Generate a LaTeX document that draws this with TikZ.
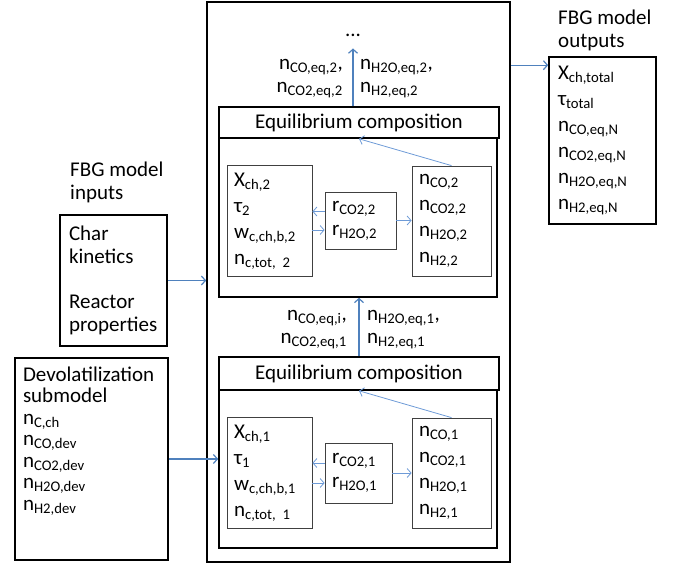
\documentclass[tikz,border=0pt]{standalone}
\usepackage{fontspec}
\setmainfont{Carlito}
\usetikzlibrary{arrows.meta}
\definecolor{linkblue}{RGB}{79,129,189}
\definecolor{swapblue}{RGB}{110,155,215}
\newcommand{\ssub}[1]{\textsubscript{#1}}

\begin{document}
\begin{tikzpicture}[x=1pt, y=-1pt, font=\fontsize{21}{26}\selectfont,
  box/.style={draw, line width=1.6pt, align=left},
  cell/.style={draw=black!75, line width=0.8pt, align=left, inner sep=7pt},
  pair/.style={inner sep=0pt, font=\fontsize{21}{23}\selectfont},
  feed/.style={-{Straight Barb[length=4pt, width=9pt]}, draw=linkblue, line width=1.2pt},
  swap/.style={-{Straight Barb[length=4pt, width=9pt]}, draw=swapblue, line width=0.8pt}]

\useasboundingbox (0,0) rectangle (676,567);

\node (outer) [draw, line width=1.6pt, minimum width=303pt, minimum height=560pt] at (358.5,282) {};

\node (head2) [box, minimum width=280pt, minimum height=31pt, align=center] at (359,122.5) {Equilibrium composition};
\node (body2) [box, minimum width=278pt, minimum height=159pt] at (358,217.5) {};
\node (left2) [cell, text width=71pt, minimum height=110pt] at (269.5,221) {X\ssub{ch,2}\\τ\ssub{2}\\w\ssub{c,ch,b,2}\\n\ssub{c,tot, 2}};
\node (mid2) [cell, text width=57pt, minimum height=57pt, font=\fontsize{21}{24}\selectfont] at (360.5,220.5) {r\ssub{CO2,2}\\r\ssub{H2O,2}};
\node (right2) [cell, text width=65pt, minimum height=110pt] at (451.5,221) {n\ssub{CO,2}\\n\ssub{CO2,2}\\n\ssub{H2O,2}\\n\ssub{H2,2}};

\node (head1) [box, minimum width=280pt, minimum height=33pt, align=center] at (359,373.5) {Equilibrium composition};
\node (body1) [box, minimum width=278pt, minimum height=158pt] at (358,469) {};
\node (left1) [cell, text width=71pt, minimum height=110pt] at (269.5,473) {X\ssub{ch,1}\\τ\ssub{1}\\w\ssub{c,ch,b,1}\\n\ssub{c,tot, 1}};
\node (mid1) [cell, text width=53pt, minimum height=60pt, font=\fontsize{21}{24}\selectfont] at (358.5,473) {r\ssub{CO2,1}\\r\ssub{H2O,1}};
\node (right1) [cell, text width=65pt, minimum height=110pt] at (451.5,473) {n\ssub{CO,1}\\n\ssub{CO2,1}\\n\ssub{H2O,1}\\n\ssub{H2,1}};

\node (dots) [inner sep=0pt] at (353,35) {...};
\node (eqa2) [pair, align=right, anchor=east] at (343,78.5) {n\ssub{CO,eq,2},\\n\ssub{CO2,eq,2}};
\node (eqb2) [pair, align=left, anchor=west] at (360,78.5) {n\ssub{H2O,eq,2},\\n\ssub{H2,eq,2}};
\node (eqa1) [pair, align=right, anchor=east] at (347,330) {n\ssub{CO,eq,i},\\n\ssub{CO2,eq,1}};
\node (eqb1) [pair, align=left, anchor=west] at (367,330) {n\ssub{H2O,eq,1},\\n\ssub{H2,eq,1}};

\node (inlab) [pair, align=left, anchor=west] at (70,182) {FBG model\\inputs};
\node (chr) [box, inner sep=9pt, text width=89pt, minimum height=131pt, font=\fontsize{21}{23.5}\selectfont] at (113.5,280.5) {Char\\kinetics\\[21pt]Reactor\\properties};
\node (devol) [box, inner sep=8pt, text width=137pt, text height=15pt, text depth=171pt, font=\fontsize{21}{21.5}\selectfont] at (91.5,459) {Devolatilization\\submodel\\n\ssub{C,ch}\\n\ssub{CO,dev}\\n\ssub{CO2,dev}\\n\ssub{H2O,dev}\\n\ssub{H2,dev}};

\node (outlab) [pair, align=left, anchor=west] at (558,30) {FBG model\\outputs};
\node (outp) [box, inner sep=9pt, text width=89pt, minimum height=161pt] at (602.5,140.5) {X\ssub{ch,total}\\τ\ssub{total}\\n\ssub{CO,eq,N}\\n\ssub{CO2,eq,N}\\n\ssub{H2O,eq,N}\\n\ssub{H2,eq,N}};

\draw [swap] ([yshift=9pt]mid2.west) -- ([yshift=9pt]mid2.west -| left2.east);
\draw [swap] ([yshift=-9pt]left2.east) -- ([yshift=-9pt]left2.east -| mid2.west);
\draw [swap] (mid2.east) -- (mid2.east -| right2.west);
\draw [swap] (right2.north) -- (head2.south);
\draw [swap] ([yshift=10pt]mid1.west) -- ([yshift=10pt]mid1.west -| left1.east);
\draw [swap] ([yshift=-10pt]left1.east) -- ([yshift=-10pt]left1.east -| mid1.west);
\draw [swap] (mid1.east) -- (mid1.east -| right1.west);
\draw [swap] (right1.north) -- (head1.south);

\draw [feed] (head1.north) -- (head1.north |- body2.south);
\draw [feed] ([xshift=-6pt]head2.north) -- ([yshift=-12pt]dots.south);
\draw [feed] (chr.east) -- (chr.east -| outer.west);
\draw [feed] (devol.east) -- (devol.east -| body1.west);
\draw [feed] ([yshift=-64pt]outer.north east) -- ([yshift=-64pt]outer.north east -| outp.west);
\end{tikzpicture}
\end{document}
